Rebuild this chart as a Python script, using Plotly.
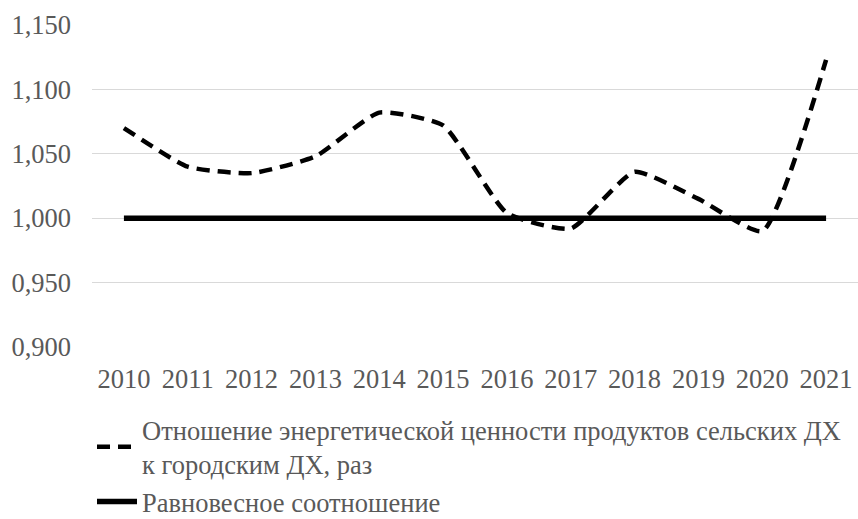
import plotly.graph_objects as go

years = ["2010", "2011", "2012", "2013", "2014", "2015", "2016", "2017", "2018", "2019", "2020", "2021"]
ratio = [1.070, 1.040, 1.035, 1.048, 1.082, 1.072, 1.004, 0.992, 1.036, 1.015, 0.990, 1.123]
equilibrium = [1.000] * 12

series1_name = "Отношение энергетической ценности продуктов сельских ДХ<br>к городским ДХ, раз"
series2_name = "Равновесное соотношение"

FONT = "Liberation Serif"
GRAY = "#595959"

fig = go.Figure()
fig.add_trace(go.Scatter(
    x=years, y=ratio, mode="lines", name=series1_name,
    line=dict(color="black", width=4.5, dash="13px,8px", shape="spline", smoothing=0.5),
))
fig.add_trace(go.Scatter(
    x=years, y=equilibrium, mode="lines", name=series2_name,
    line=dict(color="black", width=5.5),
))

fig.update_layout(
    width=858, height=519,
    margin=dict(l=92, r=0, t=25, b=172),
    paper_bgcolor="white", plot_bgcolor="white",
    separators=", ",
    font=dict(family=FONT, color=GRAY, size=26),
    showlegend=True,
    legend=dict(
        x=0.0, xanchor="left", yref="container", y=0.218, yanchor="top",
        font=dict(family=FONT, color=GRAY, size=26.5),
        orientation="v", tracegroupgap=0, itemwidth=40,
        bgcolor="rgba(0,0,0,0)",
    ),
    xaxis=dict(
        type="category", range=[-0.5, 11.5], showgrid=False, zeroline=False, showline=False,
        ticks="", ticklabelstandoff=13,
        tickfont=dict(family=FONT, color=GRAY, size=26.5),
    ),
    yaxis=dict(
        range=[0.9, 1.15], dtick=0.05, tick0=0.9, tickformat=".3f",
        showgrid=True, gridcolor="#d9d9d9", gridwidth=1.3,
        zeroline=False, showline=False, ticks="", ticklabelstandoff=20,
        tickfont=dict(family=FONT, color=GRAY, size=26.5),
    ),
)

fig.write_html("out.html", config={"displayModeBar": False},
               post_script="document.body.style.margin='0';")
